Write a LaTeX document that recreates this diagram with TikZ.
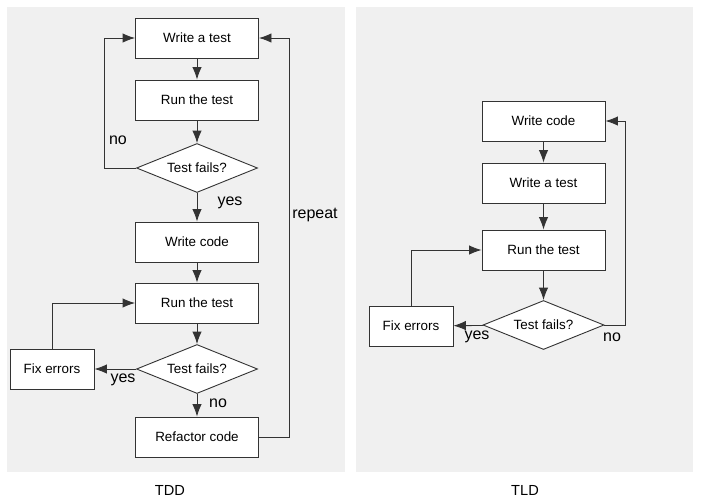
\documentclass[tikz,border=0pt]{standalone}
\usepackage{fontspec}
\setmainfont{Liberation Sans}
\usepackage{tikz}
\usetikzlibrary{shapes.geometric,arrows.meta,positioning,calc}

\begin{document}
\begin{tikzpicture}[x=1pt,y=-1pt,
    >={Latex[length=12.5pt,width=9.5pt]},
    flow/.style={->,draw=black!80,line width=0.9pt},
    stepbox/.style={draw=black!80,line width=0.9pt,fill=white,minimum width=123pt,minimum height=40pt,inner sep=0pt,font=\fontsize{13.4}{16}\selectfont},
    fixbox/.style={stepbox,minimum width=84pt},
    decision/.style={diamond,draw=black!80,line width=0.9pt,fill=white,aspect=2.47,minimum width=121pt,minimum height=49pt,inner sep=0pt,font=\fontsize{13.4}{16}\selectfont},
    lbl/.style={font=\fontsize{16}{18}\selectfont,inner sep=0pt},
    caption/.style={font=\fontsize{14.6}{17}\selectfont,inner sep=0pt}]
    \useasboundingbox (0,0) rectangle (701,501);
    \fill[black!6] (7,7) rectangle (345,472);
    \fill[black!6] (356,7) rectangle (693,472);

    % TDD
    \node[stepbox] (wtest) at (197,38) {Write a test};
    \node[stepbox] (run1) at (197,100) {Run the test};
    \node[decision] (fail1) at (197,168) {Test fails?};
    \node[stepbox] (wcode) at (197,242) {Write code};
    \node[stepbox] (run2) at (197,303) {Run the test};
    \node[decision] (fail2) at (197,369) {Test fails?};
    \node[fixbox] (fix1) at (52,369) {Fix errors};
    \node[stepbox] (refac) at (197,437) {Refactor code};
    \draw[flow] (wtest) -- (run1);
    \draw[flow] (run1) -- (fail1);
    \draw[flow] (fail1) -- (wcode);
    \draw[flow] (wcode) -- (run2);
    \draw[flow] (run2) -- (fail2);
    \draw[flow] (fail2) -- (refac);
    \draw[flow] (fail2) -- (fix1);
    \draw[flow] (fix1.north) |- (run2.west);
    \draw[flow] (fail1.west) -- ++(-32,0) |- (wtest.west);
    \draw[flow] (refac.east) -- ++(30,0) |- (wtest.east);
    \node[lbl] (no1) at (118,140) {no};
    \node[lbl] (yes1) at (230,203) {yes};
    \node[lbl] (rep) at (315,215) {repeat};
    \node[lbl] (yes2) at (123,380) {yes};
    \node[lbl] (no2) at (218,403) {no};
    \node[caption] (tdd) at (170,490) {TDD};

    % TLD
    \node[stepbox] (tcode) at (543.5,121) {Write code};
    \node[stepbox] (ttest) at (543.5,183) {Write a test};
    \node[stepbox] (trun) at (543.5,250) {Run the test};
    \node[decision] (tfail) at (543.5,325) {Test fails?};
    \node[fixbox] (tfix) at (411,326) {Fix errors};
    \draw[flow] (tcode) -- (ttest);
    \draw[flow] (ttest) -- (trun);
    \draw[flow] (trun) -- (tfail);
    \draw[flow] (tfail) -- (tfix);
    \draw[flow] (tfix.north) |- (trun.west);
    \draw[flow] (tfail.east) -- ++(21,0) |- (tcode.east);
    \node[lbl] (yes3) at (477,337) {yes};
    \node[lbl] (no3) at (612,337) {no};
    \node[caption] (tld) at (525,490) {TLD};
\end{tikzpicture}
\end{document}
